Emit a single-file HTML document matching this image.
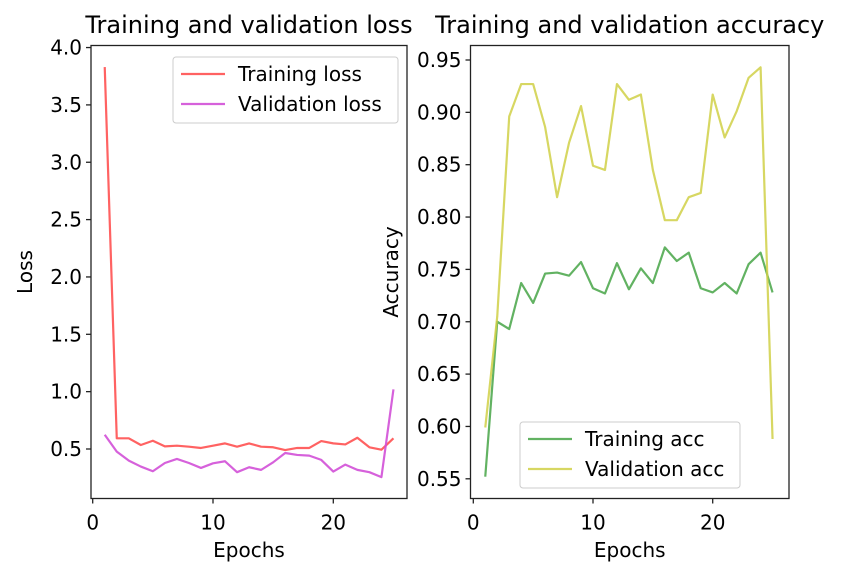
<!DOCTYPE html>
<html><head><meta charset="utf-8"><style>
body{margin:0;background:#fff;}
svg text{font-family:"DejaVu Sans","Liberation Sans",sans-serif;fill:#000;}
</style></head><body>
<svg id="fig" width="847" height="577" xmlns="http://www.w3.org/2000/svg"></svg>
<script>
const epochs=[1,2,3,4,5,6,7,8,9,10,11,12,13,14,15,16,17,18,19,20,21,22,23,24,25];
const trainLoss=[3.83,0.593,0.593,0.535,0.572,0.523,0.529,0.52,0.509,0.529,0.549,0.52,0.549,0.52,0.515,0.491,0.509,0.509,0.569,0.549,0.54,0.598,0.515,0.494,0.593];
const valLoss=[0.624,0.477,0.399,0.347,0.306,0.378,0.413,0.378,0.335,0.375,0.393,0.298,0.341,0.318,0.384,0.465,0.448,0.442,0.405,0.303,0.364,0.318,0.298,0.255,1.02];
const trainAcc=[0.552,0.700,0.693,0.737,0.718,0.746,0.747,0.744,0.757,0.732,0.727,0.756,0.731,0.751,0.737,0.771,0.758,0.766,0.732,0.728,0.737,0.727,0.755,0.766,0.728];
const valAcc=[0.599,0.705,0.896,0.927,0.927,0.886,0.819,0.871,0.906,0.849,0.845,0.927,0.912,0.917,0.845,0.797,0.797,0.819,0.823,0.917,0.876,0.901,0.933,0.943,0.588];
const xTicks=[0,10,20];
const lossTicks=[0.5,1.0,1.5,2.0,2.5,3.0,3.5,4.0];
const accTicks=[0.55,0.60,0.65,0.70,0.75,0.80,0.85,0.90,0.95];

const NS="http://www.w3.org/2000/svg";
const svg=document.getElementById('fig');
function mk(tag,attrs,parent){const e=document.createElementNS(NS,tag);for(const k in attrs)e.setAttribute(k,attrs[k]);(parent||svg).appendChild(e);return e;}

function panel(o){
  const g=mk('g',{});
  
  
  const sx=v=>o.x0+(v-0)*o.xs;
  const sy=v=>o.yref+(o.vref-v)*o.ys;
  o.series.forEach(s=>{
    const pts=epochs.map((e,i)=>sx(e).toFixed(2)+','+sy(s.data[i]).toFixed(2)).join(' ');
    const pl=mk('polyline',{points:pts,fill:'none',stroke:s.color,'stroke-width':2.2,'stroke-linejoin':'round'},g);
    
    
  });
  const fr=mk('rect',{x:o.L,y:o.T,width:o.R-o.L,height:o.B-o.T,fill:'none',stroke:'#222','stroke-width':1.3},g);
  
  
  xTicks.forEach(t=>{
    const x=sx(t);
    mk('line',{x1:x,x2:x,y1:o.B,y2:o.B+5,stroke:'#222','stroke-width':1.3},g);
    const tx=mk('text',{x:x,y:o.B+31,'text-anchor':'middle','font-size':20},g);
    tx.textContent=t;
    
    
  });
  o.yTicks.forEach(t=>{
    const y=sy(t);
    mk('line',{x1:o.L-5,x2:o.L,y1:y,y2:y,stroke:'#222','stroke-width':1.3},g);
    const tx=mk('text',{x:o.L-9,y:y+7,'text-anchor':'end','font-size':20},g);
    tx.textContent=t.toFixed(o.dec);
    
    
  });
  const xl=mk('text',{x:(o.L+o.R)/2,y:557,'text-anchor':'middle','font-size':20},g);
  xl.textContent='Epochs';
  
  
  const yl=mk('text',{x:o.ylx,y:(o.T+o.B)/2,'text-anchor':'middle','font-size':20,transform:`rotate(-90 ${o.ylx} ${(o.T+o.B)/2})`},g);
  yl.textContent=o.ylabel;
  
  
  const ti=mk('text',{x:(o.L+o.R)/2,y:33,'text-anchor':'middle','font-size':24},g);
  ti.textContent=o.title;
  
  
  const lg=mk('g',{},g);
  
  
  mk('rect',{x:o.lx,y:o.ly,width:o.lw,height:66,rx:3,fill:'#fff','fill-opacity':0.8,stroke:'#ccc','stroke-width':1},lg);
  o.series.forEach((s,i)=>{
    const y=o.ly+17+i*30;
    mk('line',{x1:o.lx+8,x2:o.lx+52,y1:y,y2:y,stroke:s.color,'stroke-width':2.2},lg);
    const t=mk('text',{x:o.lx+65,y:y+7,'font-size':20},lg);
    t.textContent=s.label;
    
    
  });
}

panel({name:'loss-chart',L:91,R:407,T:45.5,B:498.5,x0:92.7,xs:12.03,yref:449,vref:0.5,ys:114.7,
  yTicks:lossTicks,dec:1,ylabel:'Loss',ylx:32,title:'Training and validation loss',
  lx:173,ly:57,lw:225,
  series:[{id:'training-loss-line',data:trainLoss,color:'rgba(255,70,70,0.85)',label:'Training loss'},
          {id:'validation-loss-line',data:valLoss,color:'rgba(210,80,215,0.9)',label:'Validation loss'}]});
panel({name:'accuracy-chart',L:470.5,R:789,T:45.5,B:498.5,x0:473.3,xs:11.97,yref:478.8,vref:0.55,ys:1047,
  yTicks:accTicks,dec:2,ylabel:'Accuracy',ylx:398,title:'Training and validation accuracy',
  lx:520,ly:422,lw:220,
  series:[{id:'training-acc-line',data:trainAcc,color:'rgba(70,165,70,0.85)',label:'Training acc'},
          {id:'validation-acc-line',data:valAcc,color:'rgba(208,208,70,0.85)',label:'Validation acc'}]});
</script>
</body></html>
